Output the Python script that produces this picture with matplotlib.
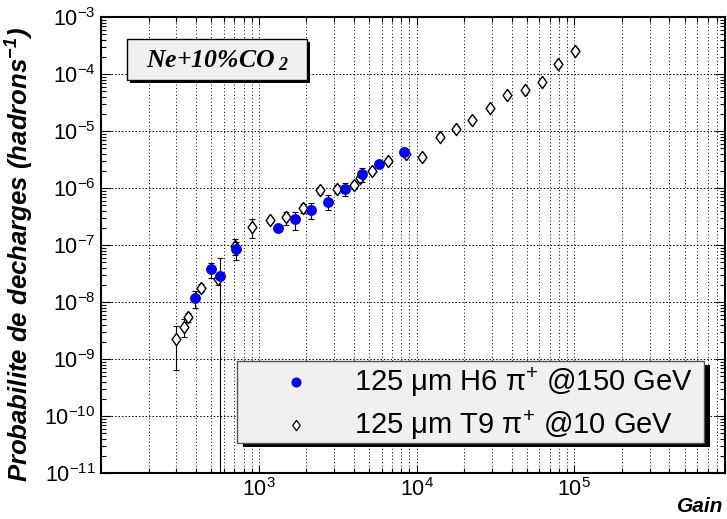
import numpy as np
import matplotlib
matplotlib.use('Agg')
import matplotlib.pyplot as plt
from matplotlib.patches import Rectangle
from matplotlib.ticker import LogLocator, FixedLocator, NullFormatter

plt.rcParams['font.family'] = ['Liberation Sans', 'DejaVu Sans']

# H6, pi+ 150 GeV (blue dots)
h6_gain = [392, 497, 569, 722, 1325, 1698, 2153, 2761, 3519, 4530, 5745, 8280]
h6_prob = [1.16e-8, 3.75e-8, 2.9e-8, 8.5e-8, 1.96e-7, 2.82e-7, 4.17e-7, 5.75e-7,
           9.6e-7, 1.76e-6, 2.6e-6, 4.2e-6]
h6_err = [3.8e-9, 1.1e-8, 3.0e-8, 3.0e-8, 2.5e-8, 1.0e-7, 1.3e-7, 1.7e-7,
          2.4e-7, 5.0e-7, 3.0e-7, 4.0e-7]

# T9, pi+ 10 GeV (open diamonds)
t9_gain = [299, 337, 357, 432, 555, 708, 907, 1175, 1496, 1906, 2455, 3133, 4035,
           4360, 5190, 6610, 8510, 10870, 14000, 17830, 22380, 29260, 37480,
           48290, 62140, 79240, 101400]
t9_prob = [2.24e-9, 3.7e-9, 5.4e-9, 1.78e-8, 2.5e-8, 9.6e-8, 2.09e-7, 2.75e-7,
           3.06e-7, 4.46e-7, 9.1e-7, 9.6e-7, 1.13e-6, 1.48e-6, 2.0e-6, 3.0e-6,
           3.9e-6, 3.55e-6, 7.9e-6, 1.1e-5, 1.58e-5, 2.53e-5, 4.2e-5, 5.2e-5,
           7.15e-5, 1.48e-4, 2.56e-4]
t9_err = [1.6e-9, 1.3e-9, 1.0e-9, 3.0e-9, 5.0e-9, 3.0e-8, 7.6e-8, 3.0e-8,
          8.0e-8, 8.0e-8, 1.2e-7, 1.5e-7, 1.5e-7, 2.0e-7, 2.5e-7, 3.0e-7,
          4.0e-7, 4.0e-7, 8.0e-7, 1.1e-6, 1.5e-6, 2.5e-6, 4.0e-6, 5.0e-6,
          7.0e-6, 1.4e-5, 2.5e-5]

labels = ['125 μm H6 π$^{\\mathdefault{+}}$ @150 GeV',
          '125 μm T9 π$^{\\mathdefault{+}}$ @10 GeV']
gas_label = r'$\mathdefault{Ne{+}10\%CO\,_2}$'

diamond = [(0, 1), (0.72, 0), (0, -1), (-0.72, 0), (0, 1)]

fig = plt.figure(figsize=(7.27, 5.19), dpi=100)
ax = fig.add_axes([101 / 727, 46 / 519, 624 / 727, 456 / 519])
ax.set_xscale('log')
ax.set_yscale('log')
ax.set_xlim(100, 9e5)
ax.set_ylim(1e-11, 1e-3)

# grid: every x tick, only decades on y
ax.xaxis.set_major_locator(FixedLocator([1e3, 1e4, 1e5]))
ax.xaxis.set_minor_locator(LogLocator(base=10, subs=np.arange(2, 10), numticks=20))
ax.xaxis.set_minor_formatter(NullFormatter())
ax.yaxis.set_major_locator(FixedLocator(10.0 ** np.arange(-11, -2)))
ax.yaxis.set_minor_locator(LogLocator(base=10, subs=np.arange(2, 10), numticks=20))
ax.yaxis.set_minor_formatter(NullFormatter())
ax.grid(True, which='both', axis='x', color='k', lw=0.7, ls=(0, (1, 2.5)))
ax.grid(True, which='major', axis='y', color='k', lw=0.7, ls=(0, (1.5, 2)))
ax.set_axisbelow(True)

ax.tick_params(which='both', direction='in', top=True, right=True, width=0.8,
               labelsize=15.5, pad=4)
ax.tick_params(axis='x', which='major', length=6)
ax.tick_params(axis='x', which='minor', length=3.5)
ax.tick_params(axis='y', which='major', length=7)
ax.tick_params(axis='y', which='minor', length=3.5)
for s in ax.spines.values():
    s.set_linewidth(1.5)

# data
ax.errorbar(t9_gain, t9_prob, yerr=t9_err, fmt='none', ecolor='k', elinewidth=0.8,
            capsize=2.5, capthick=0.8, zorder=3)
ax.plot(t9_gain, t9_prob, ls='none', marker=diamond, ms=8.8, mfc='white',
        mec='k', mew=1.0, zorder=4)
ax.errorbar(h6_gain, h6_prob, yerr=h6_err, fmt='none', ecolor='k', elinewidth=0.8,
            capsize=2.5, capthick=0.8, zorder=5)
ax.plot(h6_gain, h6_prob, ls='none', marker='o', ms=6.8, mfc='#0000ff',
        mec='#0000ff', zorder=6)

# axis titles
ax.set_ylabel('Probabilite de decharges (hadrons$^{\\mathdefault{-1}}$)',
              fontsize=18.5, fontweight='bold', fontstyle='italic')
ax.yaxis.set_label_coords(-0.106, 0.48)
ax.text(0.997, -0.086, 'Gain', transform=ax.transAxes, ha='right', va='baseline',
        fontsize=15, fontweight='bold', fontstyle='italic')

# gas mixture box with shadow
ax.add_patch(Rectangle((0.0417 + 0.005, 0.862 - 0.007), 0.288, 0.09,
                       transform=ax.transAxes, fc='k', ec='none', zorder=7))
ax.add_patch(Rectangle((0.0417, 0.862), 0.288, 0.09, transform=ax.transAxes,
                       fc='#f0f0f0', ec='k', lw=1.0, zorder=8))
ax.text(0.186, 0.905, gas_label, transform=ax.transAxes, ha='center', va='center',
        family='Liberation Serif', fontweight='bold', fontstyle='italic',
        fontsize=18.5, zorder=9)

# legend box with shadow
ax.add_patch(Rectangle((0.218 + 0.01, 0.0658 - 0.009), 0.748, 0.18,
                       transform=ax.transAxes, fc='k', ec='none', zorder=7))
ax.add_patch(Rectangle((0.218, 0.0658), 0.748, 0.18, transform=ax.transAxes,
                       fc='#f0f0f0', ec='#555555', lw=1.0, zorder=8))
ax.plot([0.3125], [0.200], transform=ax.transAxes, ls='none', marker='o', ms=6.2,
        mfc='#0000ff', mec='#0000ff', zorder=9, clip_on=False)
ax.plot([0.3125], [0.105], transform=ax.transAxes, ls='none', marker=diamond,
        ms=7.5, mfc='white', mec='k', mew=0.9, zorder=9, clip_on=False)
ax.text(0.405, 0.200, labels[0], transform=ax.transAxes, ha='left', va='center',
        fontsize=21, zorder=9)
ax.text(0.405, 0.105, labels[1], transform=ax.transAxes, ha='left', va='center',
        fontsize=21, zorder=9)

fig.savefig('out.png', dpi=100)
